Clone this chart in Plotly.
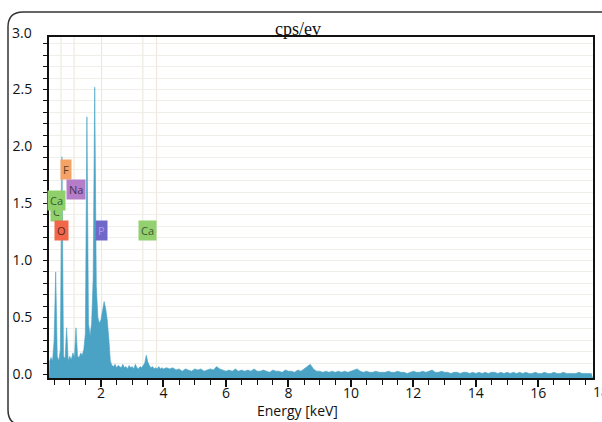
import plotly.graph_objects as go

# ---------------- data ----------------
# EDS spectrum, counts (cps/eV)
# segment 1: channels from 0.35 keV, 0.05 keV wide
low_start, low_step = 0.35, 0.05
low_counts = [
    0.11, 0.15, 0.12, 0.30, 0.90, 0.16, 0.12, 0.22, 1.91, 0.16,
    0.14, 0.41, 0.12, 0.16, 0.13, 0.19, 0.15, 0.41, 0.16, 0.15,
    0.19, 0.17, 0.22, 0.36, 2.26, 0.45, 0.34, 0.45, 0.85, 2.52,
    0.78, 0.50, 0.45, 0.48, 0.56, 0.64, 0.58, 0.48, 0.32,
    0.12, 0.08, 0.07, 0.09, 0.06, 0.08, 0.07, 0.06, 0.09, 0.06,
    0.07, 0.05, 0.08, 0.06, 0.07, 0.05, 0.09, 0.06, 0.05, 0.07,
    0.06, 0.08, 0.10, 0.17, 0.11, 0.08, 0.06, 0.07, 0.05, 0.06,
    0.05, 0.07, 0.05, 0.06, 0.05,
]
# segment 2: channels from 4.1 keV, 0.1 keV wide
high_start, high_step = 4.1, 0.1
high_counts = [
    0.06, 0.05, 0.06, 0.04, 0.05, 0.03, 0.05, 0.04, 0.03, 0.05,
    0.04, 0.05, 0.03, 0.04, 0.05, 0.04, 0.07, 0.05, 0.04, 0.03,
    0.04, 0.03, 0.05, 0.03, 0.04, 0.03, 0.04, 0.03, 0.05, 0.03,
    0.03, 0.04, 0.03, 0.02, 0.04, 0.03, 0.03, 0.02, 0.04, 0.03,
    0.03, 0.02, 0.04, 0.03, 0.05, 0.07, 0.09, 0.05, 0.03, 0.03,
    0.02, 0.03, 0.02, 0.03, 0.02, 0.03, 0.02, 0.03, 0.02, 0.03,
    0.04, 0.05, 0.03, 0.02, 0.03, 0.02, 0.02, 0.03, 0.02, 0.02,
    0.02, 0.03, 0.02, 0.02, 0.03, 0.02, 0.02, 0.01, 0.02, 0.03,
    0.02, 0.02, 0.03, 0.02, 0.03, 0.04, 0.02, 0.02, 0.03, 0.02,
    0.02, 0.01, 0.02, 0.02, 0.01, 0.02, 0.02, 0.01, 0.02, 0.01,
    0.02, 0.01, 0.02, 0.01, 0.02, 0.02, 0.01, 0.02, 0.01, 0.02,
    0.01, 0.02, 0.01, 0.02, 0.01, 0.02, 0.01, 0.01, 0.02, 0.01,
    0.01, 0.02, 0.01, 0.01, 0.02, 0.01, 0.01, 0.02, 0.01, 0.01,
    0.01, 0.01, 0.02, 0.01, 0.01, 0.01, 0.01,
]

energy = [round(low_start + low_step * i, 3) for i in range(len(low_counts))] + \
         [round(high_start + high_step * i, 3) for i in range(len(high_counts))]
counts = low_counts + high_counts

# element labels
elements = ["F", "Na", "C", "Ca", "O", "P", "Ca"]
label_energy = [0.88, 1.20, 0.56, 0.58, 0.75, 2.03, 3.50]
label_level = [1.80, 1.62, 1.43, 1.53, 1.26, 1.26, 1.26]
label_colors = ["#f5a265", "#b57cc8", "#8fd06a", "#8fd06a", "#f2674a", "#7068c8", "#92d070"]
label_text_colors = ["#5a4030", "#4a3050", "#3c5a30", "#3c5a30", "#5a2418", "#a89ae8", "#3c5a30"]

# element marker lines (keV)
marker_lines = [0.72, 1.14, 2.02, 3.34, 3.78]

x_ticks = [2, 4, 6, 8, 10, 12, 14, 16]
y_ticks = [0.0, 0.5, 1.0, 1.5, 2.0, 2.5]

X_RANGE = [0.336, 17.75]
Y_RANGE = [-0.03, 2.96]

# ---------------- figure ----------------
fig = go.Figure()

# baseline so the fill reaches the axis line
fig.add_trace(go.Scatter(x=X_RANGE, y=[Y_RANGE[0], Y_RANGE[0]], mode="lines",
                         line=dict(width=0), hoverinfo="skip", showlegend=False))
fig.add_trace(go.Scatter(x=energy, y=counts, mode="lines", fill="tonexty",
                         fillcolor="rgb(74,163,196)",
                         line=dict(color="rgb(74,163,196)", width=0.6),
                         showlegend=False))

for e in marker_lines:
    fig.add_shape(type="line", xref="x", yref="paper", x0=e, x1=e, y0=0, y1=1,
                  line=dict(color="#ebe6da", width=1), layer="below")

for name, e, lv, bg, tc in zip(elements, label_energy, label_level, label_colors, label_text_colors):
    fig.add_annotation(x=e, y=lv, xref="x", yref="y", text=name, showarrow=False,
                       bgcolor=bg, font=dict(family="Open Sans", size=11, color=tc),
                       borderpad=2)

FONT = "Open Sans"
L, R, T, B = 49, 9, 37, 44
W, H = 602, 422
pw, ph = W - L - R, H - T - B


def px_x(x):
    return (x - L) / pw


def px_y(y):
    return (H - B - y) / ph


# title
fig.add_annotation(x=px_x(298), y=px_y(29), xref="paper", yref="paper", text="cps/ev",
                   showarrow=False, font=dict(family="Liberation Serif", size=18, color="#111"),
                   xanchor="center", yanchor="middle")
# out-of-range tick labels seen in the picture
fig.add_annotation(x=px_x(34), y=px_y(32), xref="paper", yref="paper", text="3.0",
                   showarrow=False, font=dict(family=FONT, size=14, color="#111"),
                   xanchor="right", yanchor="middle")
fig.add_annotation(x=px_x(601), y=px_y(391), xref="paper", yref="paper", text="18",
                   showarrow=False, font=dict(family=FONT, size=14, color="#111"),
                   xanchor="center", yanchor="middle")
# x-axis title
fig.add_annotation(x=px_x(297), y=px_y(411), xref="paper", yref="paper", text="Energy [keV]",
                   showarrow=False, font=dict(family=FONT, size=14, color="#111"),
                   xanchor="center", yanchor="middle")

# outer rounded border (left, top and bottom-left corner)
x0, x1 = px_x(8), px_x(616)
y0, y1 = px_y(425), px_y(12)
rx, ry = 15 / pw, 15 / ph
path = (f"M {x0},{y0 + ry} L {x0},{y1 - ry} Q {x0},{y1} {x0 + rx},{y1} "
        f"L {x1},{y1} M {x0},{y0 + ry} Q {x0},{y0} {x0 + rx},{y0} L {x1},{y0}")
fig.add_shape(type="path", xref="paper", yref="paper", path=path,
              line=dict(color="#333", width=1.5))

fig.update_layout(
    width=W, height=H,
    margin=dict(l=L, r=R, t=T, b=B, autoexpand=False),
    paper_bgcolor="white", plot_bgcolor="white",
    showlegend=False,
    font=dict(family=FONT, size=14, color="#111"),
    xaxis=dict(
        range=X_RANGE, tickvals=x_ticks, ticktext=[str(v) for v in x_ticks],
        showgrid=False, zeroline=False, automargin=False,
        showline=True, linecolor="#111", linewidth=2, mirror=True,
        ticks="outside", ticklen=7, tickwidth=1.5, tickcolor="#111",
        minor=dict(dtick=0.5, ticks="outside", ticklen=5, tickwidth=1.2, tickcolor="#111", showgrid=False),
        tickfont=dict(family=FONT, size=14),
        ticklabelstandoff=-6,
    ),
    yaxis=dict(
        range=Y_RANGE, tickvals=y_ticks, ticktext=[f"{v:.1f}" for v in y_ticks],
        showgrid=True, gridcolor="#f0eee8", gridwidth=1, zeroline=False, automargin=False,
        showline=True, linecolor="#111", linewidth=2, mirror=True,
        ticks="outside", ticklen=4, tickwidth=1.2, tickcolor="#111",
        minor=dict(dtick=0.1, ticks="outside", ticklen=4, tickwidth=1.2, tickcolor="#111",
                   showgrid=True, gridcolor="#f0eee8", gridwidth=1),
        tickfont=dict(family=FONT, size=14),
        ticklabelstandoff=8,
    ),
)

fig.write_html(
    "out.html",
    config={"displayModeBar": False},
    post_script="document.body.style.margin='0';document.body.style.padding='0';"
                "document.documentElement.style.overflow='hidden';",
)
